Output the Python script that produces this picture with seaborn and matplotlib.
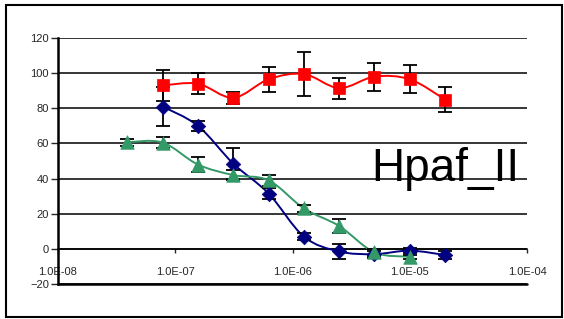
import numpy as np
import matplotlib
matplotlib.use("Agg")
import matplotlib.pyplot as plt
import seaborn as sns
from matplotlib.path import Path
from matplotlib.patches import PathPatch, Rectangle
from matplotlib.ticker import FuncFormatter, FixedLocator

# Data
conc = [7.8e-8, 1.56e-7, 3.125e-7, 6.25e-7, 1.25e-6, 2.5e-6, 5e-6, 1e-5, 2e-5]
conc_green = [3.9e-8, 7.8e-8, 1.56e-7, 3.125e-7, 6.25e-7, 1.25e-6, 2.5e-6, 5e-6, 1e-5]

red_y = [93, 94, 86, 96.5, 99.5, 91.5, 98, 96.5, 85]
red_err = [9, 6, 3.5, 7, 12.5, 6, 8, 8, 7]

blue_y = [81, 70, 48.5, 31.5, 7, -1.5, -3, -1, -3.5]
blue_err = [11, 3, 9, 3, 2, 4, 2, 1.5, 2]

green_y = [60.7, 60.5, 48, 42, 39, 23, 13, -2, -4.5]
green_err = [2, 3, 4, 3, 3, 2, 4, 2, 1]

y_ticks = [-20, 0, 20, 40, 60, 80, 100, 120]
x_ticks = [1e-8, 1e-7, 1e-6, 1e-5, 1e-4]
label = "Hpaf_II"

sns.set_style("white")
plt.rcParams["font.family"] = ["Liberation Sans", "DejaVu Sans"]

fig = plt.figure(figsize=(5.64, 3.19), dpi=100)
ax = fig.add_axes([58 / 564, 1 - 284 / 319, 469 / 564, 246 / 319])


def smooth_line(ax, xs, ys, color):
    # Excel-style smoothed line: Catmull-Rom as cubic Bezier in log-x space
    lx = np.log10(xs)
    y = np.asarray(ys, dtype=float)
    pts = np.column_stack([lx, y])
    n = len(pts)
    verts = [pts[0]]
    codes = [Path.MOVETO]
    for i in range(n - 1):
        p0 = pts[i - 1] if i > 0 else pts[i]
        p1 = pts[i]
        p2 = pts[i + 1]
        p3 = pts[i + 2] if i + 2 < n else pts[i + 1]
        c1 = p1 + (p2 - p0) / 6
        c2 = p2 - (p3 - p1) / 6
        verts += [c1, c2, p2]
        codes += [Path.CURVE4] * 3
    verts = np.array(verts)
    verts[:, 0] = 10 ** verts[:, 0]
    ax.add_patch(PathPatch(Path(verts, codes), fill=False, edgecolor=color,
                           lw=1.4, zorder=3))


series = [
    (conc, red_y, red_err, "#FF0000", "s", 72),
    (conc, blue_y, blue_err, "#000080", "D", 55),
    (conc_green, green_y, green_err, "#339966", "^", 95),
]

for xs, ys, err, col, mk, sz in series:
    smooth_line(ax, xs, ys, col)
    ax.errorbar(xs, ys, yerr=err, fmt="none", ecolor="black", elinewidth=1.3,
                capsize=5, capthick=1.3, zorder=4)
    sns.scatterplot(x=xs, y=ys, marker=mk, color=col, s=sz, edgecolor=col,
                    linewidth=0.5, ax=ax, zorder=5)

ax.set_xscale("log")
ax.set_xlim(1e-8, 1e-4)
ax.set_ylim(-20, 120)
ax.xaxis.set_major_locator(FixedLocator(x_ticks))
ax.xaxis.set_minor_locator(FixedLocator([]))
ax.xaxis.set_major_formatter(FuncFormatter(lambda v, p: f"{v:.1E}"))
ax.set_yticks(y_ticks)

ax.yaxis.grid(True, color="black", lw=1.1)
ax.xaxis.grid(False)
ax.set_axisbelow(True)
ax.axhline(-20, color="black", lw=1.8, zorder=1, clip_on=False)

for s in ["top", "right"]:
    ax.spines[s].set_visible(False)
ax.spines["left"].set_linewidth(1.8)
ax.spines["left"].set_color("black")
ax.spines["bottom"].set_position(("data", 0))
ax.spines["bottom"].set_linewidth(1.1)
ax.spines["bottom"].set_color("black")

ax.tick_params(axis="y", direction="out", length=5, width=1, pad=1.5,
               labelsize=8, left=True)
ax.tick_params(axis="x", direction="out", length=3, width=1, pad=10,
               labelsize=8, bottom=True)

ax.text(10 ** -5.33, 38.7, label, fontsize=33, color="black",
        ha="left", va="baseline", zorder=6)

fig.add_artist(Rectangle((6 / 564, 1 - 317 / 319), 556 / 564, 312 / 319,
                         transform=fig.transFigure, fill=False,
                         edgecolor="black", lw=1.5))

fig.savefig("out.png", dpi=100)
